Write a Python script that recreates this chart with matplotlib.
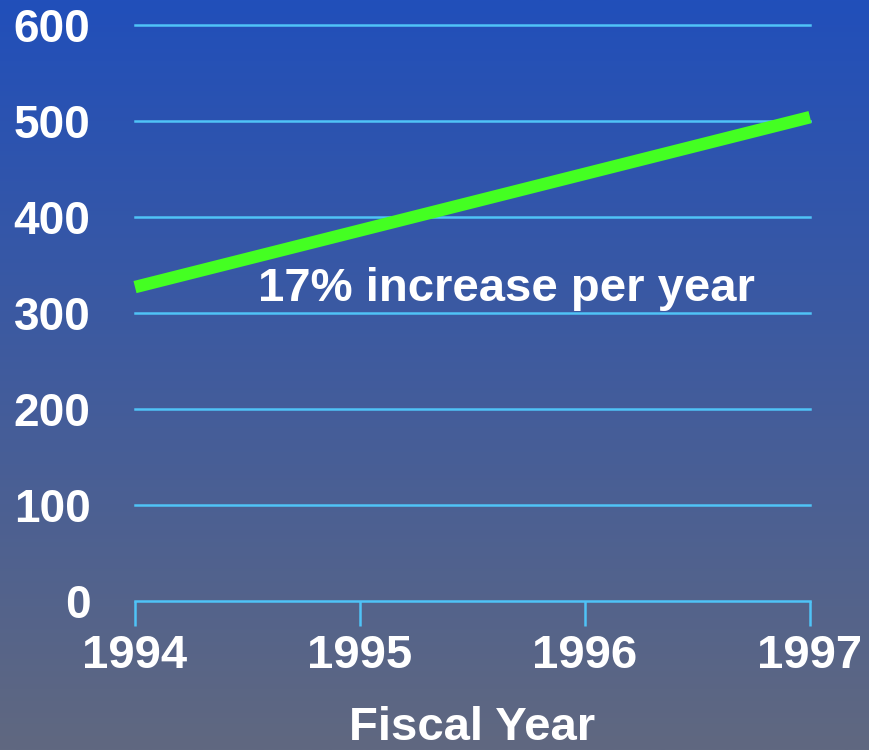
import numpy as np
import matplotlib
matplotlib.use('Agg')
import matplotlib.pyplot as plt

### Data
years = [1994, 1995, 1996, 1997]
values = [327, 386, 445, 504]
yticks = [0, 100, 200, 300, 400, 500, 600]
note = '17% increase per year'

plt.rcParams['font.family'] = ['Liberation Sans', 'DejaVu Sans']
plt.rcParams['font.weight'] = 'bold'

grid_col = '#4FC3F7'
green = '#44FF22'

fig = plt.figure(figsize=(8.69, 7.5), dpi=100)

### gradient background
bg = fig.add_axes([0, 0, 1, 1], zorder=0)
top = np.array([0x21, 0x4F, 0xBA]) / 255
bot = np.array([0x60, 0x68, 0x80]) / 255
t = np.linspace(0, 1, 256)[:, None]
grad = top[None, :] * (1 - t) + bot[None, :] * t
bg.imshow(grad[:, None, :], aspect='auto', extent=[0, 1, 0, 1])
bg.axis('off')

ax = fig.add_axes([135/869, 1 - 601/750, 675/869, 576/750], zorder=1)
ax.patch.set_alpha(0)

for yv in yticks[1:]:
    ax.axhline(yv, color=grid_col, lw=1.8, zorder=1, clip_on=False)

ax.plot(years, values, color=green, lw=9, solid_capstyle='butt', zorder=3, clip_on=False)

ax.set_xlim(1994, 1997)
ax.set_ylim(0, 600)
ax.set_xticks(years)
ax.set_yticks(yticks)

for s in ['top', 'right', 'left']:
    ax.spines[s].set_visible(False)
ax.spines['bottom'].set_color(grid_col)
ax.spines['bottom'].set_linewidth(1.8)

ax.tick_params(axis='x', colors=grid_col, length=18, width=1.8, direction='out',
               labelcolor='white', labelsize=34, pad=6)
ax.tick_params(axis='y', length=0, labelcolor='white', labelsize=33, pad=32)

ax.set_xlabel('Fiscal Year', color='white', fontsize=34, fontweight='bold', labelpad=20)

ax.text(1994.545, 312, note, color='white', fontsize=34, fontweight='bold',
        ha='left', va='baseline', zorder=4)

fig.savefig('out.png', dpi=100)
